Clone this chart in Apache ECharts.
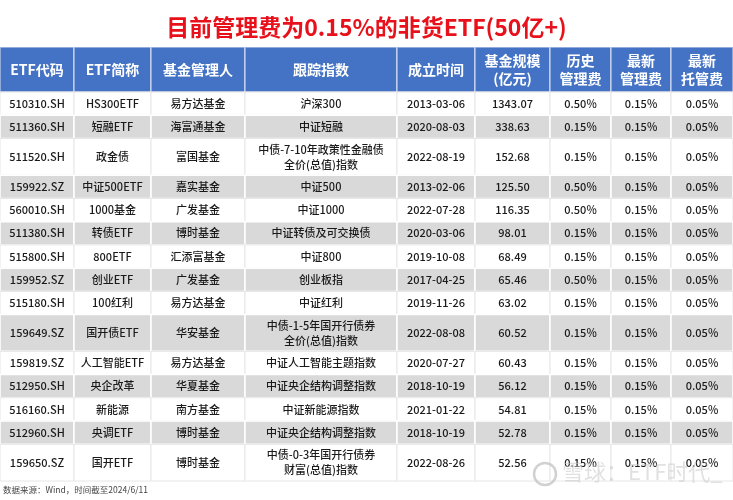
<!DOCTYPE html>
<html>
<head>
<meta charset="utf-8">
<script src="https://cdn.jsdelivr.net/npm/echarts@6/dist/echarts.min.js"></script>
<style>html,body{margin:0;padding:0;background:#fff}#c{width:733px;height:500px}</style>
</head>
<body>
<div id="c"></div>
<script>
// ---- data ----
const headers = ['ETF代码','ETF简称','基金管理人','跟踪指数','成立时间','基金规模\n(亿元)','历史\n管理费','最新\n管理费','最新\n托管费'];
const codes = ['510310.SH','511360.SH','511520.SH','159922.SZ','560010.SH','511380.SH','515800.SH','159952.SZ','515180.SH','159649.SZ','159819.SZ','512950.SH','516160.SH','512960.SH','159650.SZ'];
const names = ['HS300ETF','短融ETF','政金债','中证500ETF','1000基金','转债ETF','800ETF','创业ETF','100红利','国开债ETF','人工智能ETF','央企改革','新能源','央调ETF','国开ETF'];
const managers = ['易方达基金','海富通基金','富国基金','嘉实基金','广发基金','博时基金','汇添富基金','广发基金','易方达基金','华安基金','易方达基金','华夏基金','南方基金','博时基金','博时基金'];
const indices = ['沪深300','中证短融','中债-7-10年政策性金融债\n全价(总值)指数','中证500','中证1000','中证转债及可交换债','中证800','创业板指','中证红利','中债-1-5年国开行债券\n全价(总值)指数','中证人工智能主题指数','中证央企结构调整指数','中证新能源指数','中证央企结构调整指数','中债-0-3年国开行债券\n财富(总值)指数'];
const dates = ['2013-03-06','2020-08-03','2022-08-19','2013-02-06','2022-07-28','2020-03-06','2019-10-08','2017-04-25','2019-11-26','2022-08-08','2020-07-27','2018-10-19','2021-01-22','2018-10-19','2022-08-26'];
const sizes = [1343.07,338.63,152.68,125.50,116.35,98.01,68.49,65.46,63.02,60.52,60.43,56.12,54.81,52.78,52.56];
const histFee = [0.50,0.15,0.15,0.50,0.50,0.15,0.15,0.50,0.15,0.15,0.15,0.15,0.15,0.15,0.15];
const newFee = [0.15,0.15,0.15,0.15,0.15,0.15,0.15,0.15,0.15,0.15,0.15,0.15,0.15,0.15,0.15];
const custFee = [0.05,0.05,0.05,0.05,0.05,0.05,0.05,0.05,0.05,0.05,0.05,0.05,0.05,0.05,0.05];
const titleText = '目前管理费为0.15%的非货ETF(50亿+)';
const sourceText = '数据来源：Wind，时间截至2024/6/11';
const watermarkText = '雪球：ETF时代_';

// ---- layout ----
const colW = [74,77,94,152,78,75,61,60,62];
const colX = [0];
colW.forEach(w => colX.push(colX[colX.length-1] + w));
const totalW = colX[colX.length-1];
const FONT = '"Noto Sans CJK SC","Noto Sans",sans-serif';
const pct = v => v.toFixed(2) + '%';

// body rows
const rows = codes.map((c, i) => [c, names[i], managers[i], indices[i], dates[i], sizes[i].toFixed(2), pct(histFee[i]), pct(newFee[i]), pct(custFee[i])]);
const rowUnits = rows.map(r => {
  const lines = Math.max(...r.map(t => t.split('\n').length));
  return lines > 1 ? 1.58 : 1;
});
const rowY = [0];
rowUnits.forEach(u => rowY.push(rowY[rowY.length-1] + u));
const totalUnits = rowY[rowY.length-1];

const bodyData = [], bodyText = [];
rows.forEach((r, ri) => {
  r.forEach((t, ci) => {
    bodyData.push([colX[ci], colX[ci+1], rowY[ri], rowY[ri+1], ri]);
    bodyText.push(t);
  });
});
const headData = headers.map((h, ci) => [colX[ci], colX[ci+1], 0, 1, 0]);

function makeRender(texts, isHeader) {
  return function (params, api) {
    const p0 = api.coord([api.value(0), api.value(2)]);
    const p1 = api.coord([api.value(1), api.value(3)]);
    const x = Math.min(p0[0], p1[0]), y = Math.min(p0[1], p1[1]);
    const w = Math.abs(p1[0] - p0[0]), h = Math.abs(p1[1] - p0[1]);
    const ri = api.value(4);
    let fill, stroke, lw;
    if (isHeader) { fill = '#4472C4'; stroke = 'rgba(255,255,255,0.55)'; lw = 1.5; }
    else if (ri % 2 === 1) { fill = '#D9D9D9'; stroke = '#ffffff'; lw = 1.5; }
    else { fill = '#ffffff'; stroke = '#E6E6E6'; lw = 1; }
    return {
      type: 'group',
      children: [
        { type: 'rect', shape: { x: x, y: y, width: w, height: h }, style: { fill: fill, stroke: stroke, lineWidth: lw } },
        { type: 'text', style: {
            text: texts[params.dataIndex], x: x + w / 2, y: y + h / 2,
            align: 'center', verticalAlign: 'middle',
            fontFamily: FONT,
            fontSize: isHeader ? 14 : 11,
            fontWeight: isHeader ? 'bold' : 500,
            lineHeight: isHeader ? 18.5 : 15,
            fill: isHeader ? '#ffffff' : '#1a1a1a'
          } }
      ]
    };
  };
}

const chart = echarts.init(document.getElementById('c'), null, { renderer: 'canvas' });
chart.setOption({
  backgroundColor: '#ffffff',
  animation: false,
  title: {
    text: titleText, left: 'center', top: 11,
    textStyle: { color: '#E8101A', fontSize: 23, fontWeight: 'bold', fontFamily: FONT }
  },
  grid: [
    { left: 0, right: 0, top: 47, height: 45 },
    { left: 0, right: 0, top: 92, height: 389 }
  ],
  xAxis: [
    { gridIndex: 0, type: 'value', min: 0, max: totalW, show: false },
    { gridIndex: 1, type: 'value', min: 0, max: totalW, show: false }
  ],
  yAxis: [
    { gridIndex: 0, type: 'value', min: 0, max: 1, inverse: true, show: false },
    { gridIndex: 1, type: 'value', min: 0, max: totalUnits, inverse: true, show: false }
  ],
  series: [
    { type: 'custom', xAxisIndex: 0, yAxisIndex: 0, data: headData, renderItem: makeRender(headers, true), silent: true },
    { type: 'custom', xAxisIndex: 1, yAxisIndex: 1, data: bodyData, renderItem: makeRender(bodyText, false), silent: true }
  ],
  graphic: [
    { type: 'text', left: 3, top: 486, style: { text: sourceText, fontSize: 8.5, fill: '#444', fontFamily: FONT } },
    { type: 'circle', shape: { cx: 545, cy: 474, r: 11 }, style: { fill: 'none', stroke: 'rgba(190,190,190,0.7)', lineWidth: 2.5 }, z: 100 },
    { type: 'text', left: 562, top: 461, z: 100, style: { text: watermarkText, fontSize: 22, fill: 'rgba(200,200,200,0.55)', fontFamily: FONT } }
  ]
});
</script>
</body>
</html>
